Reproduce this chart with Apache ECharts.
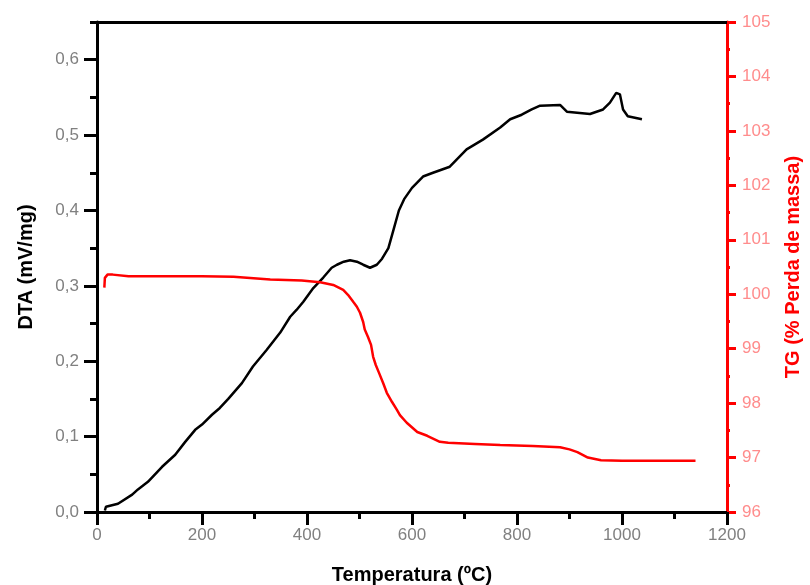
<!DOCTYPE html>
<html>
<head>
<meta charset="utf-8">
<script src="https://cdn.jsdelivr.net/npm/echarts@6/dist/echarts.min.js"></script>
<style>html,body{margin:0;padding:0;background:#fff}#c{width:810px;height:585px}</style>
</head>
<body>
<div id="c"></div>
<script>
// DTA curve (temperature °C, mV/mg)
var dtaT = [15, 17, 40, 67, 78, 97, 124, 149, 168, 187, 200, 219, 234, 250, 276, 297, 323, 349, 368, 380, 393, 412, 431, 447, 457, 470, 482, 495, 507, 520, 533, 543, 555, 565, 575, 585, 600, 621, 640, 672, 704, 735, 768, 787, 809, 828, 844, 882, 895, 939, 964, 977, 989, 996, 1002, 1011, 1038];
var dtaV = [0.002, 0.007, 0.011, 0.023, 0.030, 0.040, 0.060, 0.076, 0.093, 0.109, 0.116, 0.129, 0.138, 0.150, 0.171, 0.193, 0.215, 0.238, 0.259, 0.268, 0.279, 0.297, 0.311, 0.324, 0.328, 0.332, 0.334, 0.332, 0.328, 0.324, 0.328, 0.336, 0.350, 0.375, 0.400, 0.415, 0.430, 0.445, 0.450, 0.458, 0.481, 0.494, 0.510, 0.521, 0.527, 0.534, 0.539, 0.540, 0.531, 0.528, 0.534, 0.543, 0.556, 0.554, 0.534, 0.525, 0.521];
// TG curve (temperature °C, % mass)
var tgT = [14, 15, 20, 30, 60, 150, 200, 260, 330, 390, 425, 450, 469, 478, 488, 495, 501, 507, 510, 516, 522, 526, 531, 537, 545, 552, 562, 571, 577, 590, 610, 629, 653, 669, 720, 768, 830, 882, 900, 915, 935, 960, 1000, 1140];
var tgV = [100.12, 100.30, 100.36, 100.36, 100.33, 100.33, 100.33, 100.32, 100.27, 100.25, 100.22, 100.17, 100.08, 99.99, 99.86, 99.77, 99.66, 99.49, 99.35, 99.22, 99.07, 98.85, 98.70, 98.56, 98.37, 98.19, 98.02, 97.88, 97.78, 97.64, 97.47, 97.40, 97.29, 97.27, 97.25, 97.23, 97.21, 97.19, 97.15, 97.10, 97.00, 96.95, 96.94, 96.94];
// axis ticks
var xMajor = [0, 200, 400, 600, 800, 1000, 1200];
var dtaMajor = [0, 0.1, 0.2, 0.3, 0.4, 0.5, 0.6];
var tgMajor = [96, 97, 98, 99, 100, 101, 102, 103, 104, 105];

var FONT = "'Liberation Sans', Arial, sans-serif";
function pairs(a, b) { return a.map(function (v, i) { return [v, b[i]]; }); }
function near(v, list) { return list.some(function (m) { return Math.abs(m - v) < 1e-6; }); }

var chart = echarts.init(document.getElementById('c'), null, { renderer: 'canvas' });
var blackLine = { onZero: false, lineStyle: { color: '#000', width: 3 } };
var redLine = { onZero: false, lineStyle: { color: '#ff0000', width: 3 } };
var noLine = { show: false, onZero: false };
chart.setOption({
  animation: false,
  backgroundColor: '#fff',
  grid: { left: 97, right: 83, top: 22, bottom: 73, containLabel: false, outerBoundsMode: 'none' },
  xAxis: [
    { type: 'value', position: 'bottom', min: 0, max: 1200, interval: 100,
      axisLine: blackLine, splitLine: { show: false },
      axisTick: { length: 7, lineStyle: { color: '#000', width: 3 } },
      axisLabel: { margin: 15, color: '#808080', fontSize: 17, fontFamily: FONT,
        formatter: function (v) { return near(v, xMajor) ? String(v) : ''; } },
      name: 'Temperatura (ºC)', nameLocation: 'middle', nameGap: 53,
      nameTextStyle: { color: '#000', fontSize: 20, fontWeight: 'bold', fontFamily: FONT } },
    { type: 'value', position: 'bottom', min: 0, max: 1200, interval: 200,
      axisLine: noLine, splitLine: { show: false }, axisLabel: { show: false },
      axisTick: { length: 13, lineStyle: { color: '#000', width: 3 } } },
    { type: 'value', position: 'top', min: 0, max: 1200,
      axisLine: blackLine, splitLine: { show: false }, axisLabel: { show: false }, axisTick: { show: false } }
  ],
  yAxis: [
    { type: 'value', position: 'left', min: 0, max: 0.65, interval: 0.05,
      axisLine: blackLine, splitLine: { show: false },
      axisTick: { length: 7, lineStyle: { color: '#000', width: 3 } },
      axisLabel: { margin: 18, color: '#808080', fontSize: 17, fontFamily: FONT,
        formatter: function (v) { return near(v, dtaMajor) ? v.toFixed(1).replace('.', ',') : ''; } },
      name: 'DTA (mV/mg)', nameLocation: 'middle', nameGap: 61, nameRotate: 90,
      nameTextStyle: { color: '#000', fontSize: 20, fontWeight: 'bold', fontFamily: FONT } },
    { type: 'value', position: 'right', min: 96, max: 105, interval: 0.5,
      axisLine: redLine, splitLine: { show: false },
      axisTick: { length: 3, lineStyle: { color: '#ff0000', width: 3 } },
      axisLabel: { margin: 15, color: '#ff8c8c', fontSize: 17, fontFamily: FONT,
        formatter: function (v) { return near(v, tgMajor) ? String(Math.round(v)) : ''; } },
      name: 'TG (% Perda de massa)', nameLocation: 'middle', nameGap: 56, nameRotate: 90,
      nameTextStyle: { color: '#ff0000', fontSize: 20, fontWeight: 'bold', fontFamily: FONT } },
    { type: 'value', position: 'left', min: 0, max: 0.65, interval: 0.1,
      axisLine: noLine, splitLine: { show: false }, axisLabel: { show: false },
      axisTick: { length: 13, customValues: dtaMajor, lineStyle: { color: '#000', width: 3 } } },
    { type: 'value', position: 'right', min: 96, max: 105, interval: 1,
      axisLine: noLine, splitLine: { show: false }, axisLabel: { show: false },
      axisTick: { length: 9, lineStyle: { color: '#ff0000', width: 3 } } }
  ],
  series: [
    { type: 'line', name: 'DTA', xAxisIndex: 0, yAxisIndex: 0, data: pairs(dtaT, dtaV),
      showSymbol: false, lineStyle: { color: '#000', width: 2.5 }, itemStyle: { color: '#000' } },
    { type: 'line', name: 'TG', xAxisIndex: 0, yAxisIndex: 1, data: pairs(tgT, tgV),
      showSymbol: false, lineStyle: { color: '#ff0000', width: 2.5 }, itemStyle: { color: '#ff0000' } }
  ]
});
</script>
</body>
</html>
